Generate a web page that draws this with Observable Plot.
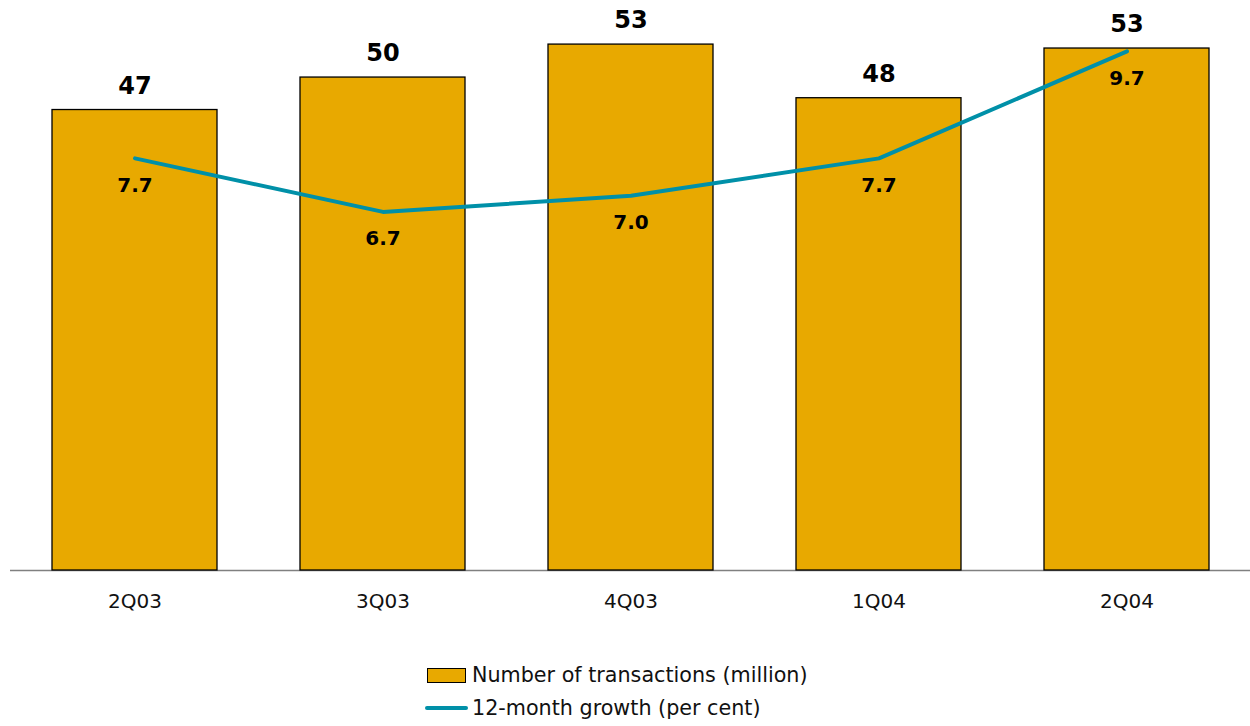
<!DOCTYPE html>
<html>
<head>
<meta charset="utf-8">
<script src="https://cdn.jsdelivr.net/npm/d3@7"></script>
<script src="https://cdn.jsdelivr.net/npm/@observablehq/plot@0.6"></script>
<style>
  body { margin: 0; background: #fff; font-family: "DejaVu Sans", Verdana, sans-serif; }
  #wrap { position: relative; width: 1250px; height: 726px; }
  .leg { position: absolute; font-size: 20.7px; color: #111; white-space: nowrap; }
</style>
</head>
<body>
<div id="wrap">
  <div id="chart"></div>
  <div class="leg" style="left:427px; top:662px;">
    <span style="display:inline-block;width:37px;height:13px;background:#E8A900;border:1.5px solid #000;vertical-align:middle;margin-right:6px;"></span><span style="vertical-align:middle;">Number of transactions (million)</span>
  </div>
  <div class="leg" style="left:425px; top:695px;">
    <span style="display:inline-block;width:43px;height:4px;background:#0090A8;border-radius:2px;vertical-align:middle;margin-right:4px;"></span><span style="vertical-align:middle;">12-month growth (per cent)</span>
  </div>
</div>
<script>
const quarters = ["2Q03", "3Q03", "4Q03", "1Q04", "2Q04"];
const transactions = [46.8, 50.1, 53.45, 48.0, 53.05];
const growth = [7.7, 6.7, 7.0, 7.7, 9.7];

const yMax = 54.78;   // left (hidden) axis max, million
const y2Max = 10.07;  // right (hidden) axis max, per cent
const k = yMax / y2Max;

const data = quarters.map((q, i) => ({q, n: transactions[i], g: growth[i]}));

const chart = Plot.plot({
  width: 1250,
  height: 630,
  marginLeft: 10,
  marginRight: 0,
  marginTop: 31,
  marginBottom: 60,
  style: {fontFamily: "DejaVu Sans, Verdana, sans-serif", background: "white"},
  x: {domain: quarters, paddingInner: 0.335, paddingOuter: 0.1675, label: null},
  y: {domain: [0, yMax], axis: null},
  marks: [
    Plot.ruleY([0], {stroke: "#808080", strokeWidth: 1.3}),
    Plot.barY(data, {x: "q", y: "n", fill: "#E8A900", stroke: "#000", strokeWidth: 1.3}),
    Plot.text(data, {x: "q", y: "n", text: d => d3.format(".0f")(d.n), dy: -24, fontSize: 24, fontWeight: "bold", fill: "#000"}),
    Plot.line(data, {x: "q", y: d => d.g * k, stroke: "#0090A8", strokeWidth: 4, strokeLinecap: "round", strokeLinejoin: "round"}),
    Plot.text(data, {x: "q", y: d => d.g * k, text: d => d3.format(".1f")(d.g), dy: 27, fontSize: 20, fontWeight: "bold", fill: "#000"}),
    Plot.axisX({tickSize: 0, tickPadding: 23, fontSize: 20, label: null, fill: "#111"})
  ]
});
document.getElementById("chart").append(chart);
</script>
</body>
</html>
